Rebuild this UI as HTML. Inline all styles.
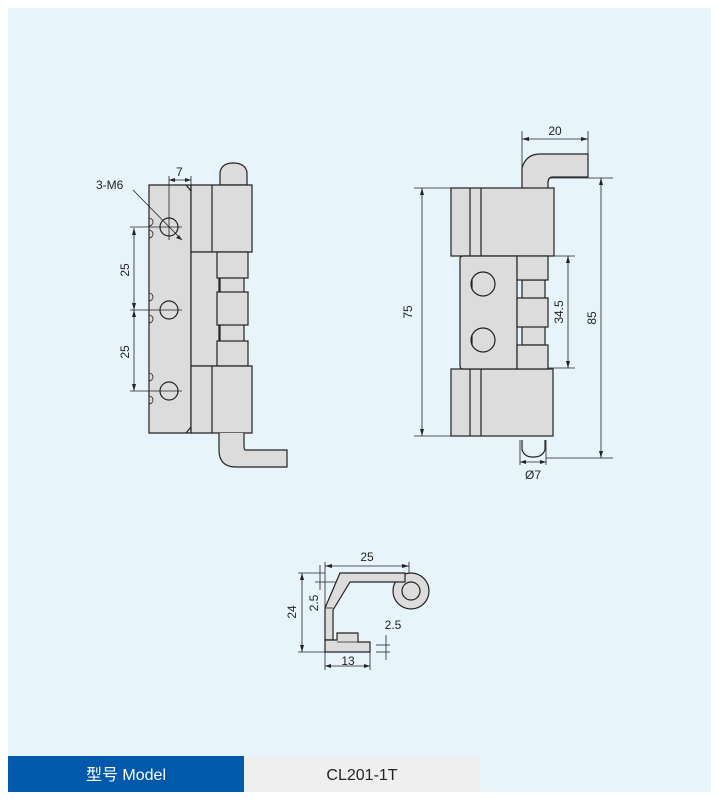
<!DOCTYPE html>
<html><head><meta charset="utf-8"><style>
body{margin:0;background:#fff;width:717px;height:800px;overflow:hidden;font-family:"Liberation Sans",sans-serif}
</style></head><body>
<svg width="717" height="800" viewBox="0 0 717 800" xmlns="http://www.w3.org/2000/svg" font-family="Liberation Sans, Noto Sans CJK SC, sans-serif">
<rect x="8" y="8" width="703" height="784" fill="#e8f4fc"/>
<g stroke="#222" stroke-width="1.2" fill="#dcdcdc">
<!-- left view -->
<path d="M220,185 L220,172 Q222,163 233,163 Q245,163 247,172 L247,185Z"/>
<path d="M149,185 L191,185 L191,433 L149,433Z"/>
<path d="M191,185 L252,185 L252,252 L191,252Z"/>
<line x1="212" y1="185" x2="212" y2="252"/>
<rect x="191" y="252" width="28" height="114"/>
<rect x="220" y="277" width="24" height="89"/>
<rect x="217" y="252" width="31" height="26"/>
<rect x="217" y="292" width="31" height="33"/>
<rect x="217" y="341" width="31" height="25"/>
<path d="M191,366 L252,366 L252,433 L191,433Z"/>
<line x1="212" y1="366" x2="212" y2="433"/>
<path d="M219,433 L219,450 Q219,467 236,467 L287,467 L287,450 L245,450 Q244,450 244,444 L244,433"/>
<path d="M186,185 L191,191 M186,433 L191,427" fill="none"/>
<g fill="none">
<circle cx="169" cy="227" r="9"/><circle cx="169" cy="310" r="9"/><circle cx="169" cy="391" r="9"/>
<path d="M149,218 a4,4 0 0 1 0,8 M149,230 a4,4 0 0 1 0,8 M149,293 a4,4 0 0 1 0,8 M149,315 a4,4 0 0 1 0,8 M149,373 a4,4 0 0 1 0,8 M149,396 a4,4 0 0 1 0,8" stroke-width="0.8"/>
</g>
</g>
<g stroke="#222" stroke-width="0.8" fill="none">
<line x1="130" y1="227" x2="182" y2="227"/><line x1="130" y1="310" x2="182" y2="310"/><line x1="130" y1="391" x2="182" y2="391"/>
<line x1="134" y1="228" x2="134" y2="391"/>
<line x1="169" y1="176" x2="169" y2="240"/><line x1="191" y1="176" x2="191" y2="185"/>
<line x1="169" y1="180" x2="191" y2="180"/>
<line x1="133" y1="190" x2="182" y2="240"/>
<!-- right view dims -->
<line x1="414" y1="188" x2="451" y2="188"/><line x1="414" y1="436" x2="451" y2="436"/>
<line x1="422" y1="188" x2="422" y2="436"/>
<line x1="522" y1="131" x2="522" y2="188"/><line x1="588" y1="131" x2="588" y2="177"/>
<line x1="522" y1="139" x2="588" y2="139"/>
<line x1="548" y1="178" x2="613" y2="178"/><line x1="546" y1="458" x2="613" y2="458"/>
<line x1="601" y1="178" x2="601" y2="458"/>
<line x1="548" y1="256" x2="575" y2="256"/><line x1="548" y1="368" x2="575" y2="368"/>
<line x1="568" y1="256" x2="568" y2="368"/>
<line x1="520" y1="440" x2="520" y2="465"/><line x1="546" y1="440" x2="546" y2="465"/>
<line x1="520" y1="462" x2="546" y2="462"/>
<!-- bottom view dims -->
<line x1="298" y1="573" x2="325" y2="573"/><line x1="298" y1="652" x2="325" y2="652"/>
<line x1="302" y1="573" x2="302" y2="652"/>
<line x1="325" y1="562" x2="325" y2="670"/><line x1="409" y1="562" x2="409" y2="585"/>
<line x1="325" y1="566" x2="409" y2="566"/>
<line x1="315" y1="582" x2="340" y2="582"/>
<line x1="320" y1="565" x2="320" y2="590"/>
<line x1="370" y1="645" x2="370" y2="670"/>
<line x1="325" y1="666" x2="370" y2="666"/>
<line x1="376" y1="645" x2="390" y2="645"/><line x1="376" y1="652" x2="390" y2="652"/>
<line x1="386" y1="635" x2="386" y2="660"/>
</g>
<g fill="#222">
<path d="M134,228 l-2,7 h4z M134,310 l-2,-7 h4z M134,310 l-2,7 h4z M134,391 l-2,-7 h4z"/>
<path d="M169,180 l6,-2 v4z M191,180 l-6,-2 v4z M182,240 l-6,-2 l3,-3z"/>
<path d="M422,188 l-2,7 h4z M422,436 l-2,-7 h4z M522,139 l7,-2 v4z M588,139 l-7,-2 v4z M601,178 l-2,7 h4z M601,458 l-2,-7 h4z M568,256 l-2,7 h4z M568,368 l-2,-7 h4z M520,462 l6,-2 v4z M546,462 l-6,-2 v4z"/>
<path d="M302,573 l-2,7 h4z M302,652 l-2,-7 h4z M325,566 l7,-2 v4z M409,566 l-7,-2 v4z M325,666 l6,-2 v4z M370,666 l-6,-2 v4z"/>
</g>
<g stroke="#222" stroke-width="1.2" fill="#dcdcdc">
<!-- right view -->
<path d="M522,188 L522,168 Q526,154 540,154 L588,154 L588,177 L553,177 Q548,177 548,183 L548,188"/>
<rect x="451" y="188" width="103" height="68"/>
<rect x="451" y="369" width="102" height="67"/>
<line x1="470" y1="188" x2="470" y2="256"/><line x1="481" y1="188" x2="481" y2="256"/>
<line x1="470" y1="369" x2="470" y2="436"/><line x1="481" y1="369" x2="481" y2="436"/>
<rect x="522" y="280" width="23" height="65"/>
<path d="M463,256 L517,256 L517,369 L463,369 Q460,369 460,366 L460,259 Q460,256 463,256Z"/>
<rect x="517" y="256" width="31" height="24"/>
<rect x="517" y="298" width="31" height="29"/>
<rect x="517" y="345" width="31" height="24"/>
<circle cx="483" cy="284" r="12"/><circle cx="483" cy="340" r="12"/>
<line x1="472" y1="279" x2="472" y2="289"/><line x1="472" y1="335" x2="472" y2="345"/>
<path d="M522,440 L522,450 Q525,457 532,457 L534,457 Q542,457 545,450 L545,440" fill="none"/>
<!-- bottom view -->
<circle cx="411" cy="591" r="18"/>
<circle cx="411" cy="591" r="9"/>
<path d="M340,573 L405,573 L405,582 L350,582 L333,610 L333,640 L325,640 L325,608 Z"/>
<path d="M325,640 L337,640 L337,633 L358,633 L358,642 L370,642 L370,652 L325,652Z"/>
<line x1="325" y1="608" x2="333" y2="608" stroke-width="0.8"/>
<line x1="337" y1="642" x2="358" y2="642" stroke-width="0.8"/>
</g>
<g font-size="12" fill="#222">
<text x="96" y="189">3-M6</text>
<text x="176" y="176">7</text>
<text transform="translate(129,270) rotate(-90)" text-anchor="middle">25</text>
<text transform="translate(129,352) rotate(-90)" text-anchor="middle">25</text>
<text transform="translate(412,312) rotate(-90)" text-anchor="middle">75</text>
<text x="555" y="135" text-anchor="middle">20</text>
<text transform="translate(596,318) rotate(-90)" text-anchor="middle">85</text>
<text transform="translate(563,312) rotate(-90)" text-anchor="middle">34.5</text>
<text x="533" y="479" text-anchor="middle">Ø7</text>
<text x="367" y="561" text-anchor="middle">25</text>
<text transform="translate(296,612) rotate(-90)" text-anchor="middle">24</text>
<text transform="translate(318,603) rotate(-90)" text-anchor="middle">2.5</text>
<text x="393" y="629" text-anchor="middle">2.5</text>
<text x="348" y="665" text-anchor="middle">13</text>
</g>
<rect x="8" y="756" width="236" height="36" fill="#0059ab"/>
<rect x="245" y="756" width="235" height="36" fill="#efefef"/>
<text x="126" y="780" font-size="16" fill="#fff" text-anchor="middle">型号 Model</text>
<text x="362" y="780" font-size="16" fill="#222" text-anchor="middle">CL201-1T</text>
</svg>
</body></html>
